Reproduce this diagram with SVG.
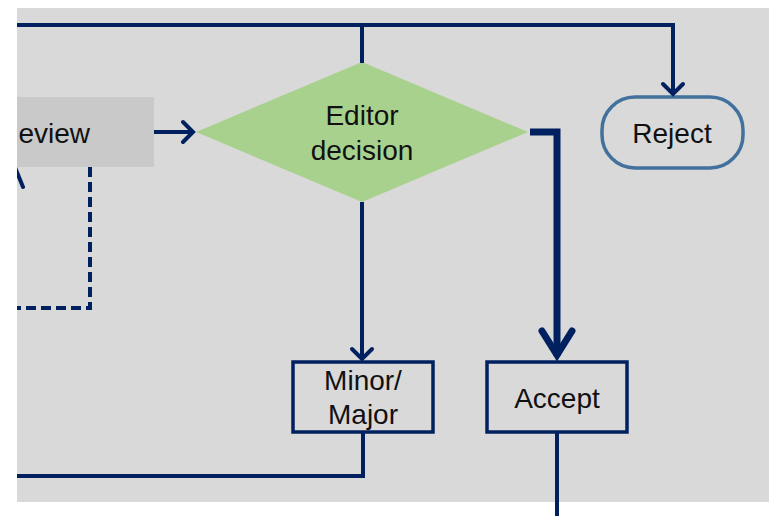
<svg xmlns="http://www.w3.org/2000/svg" width="769" height="516" viewBox="0 0 769 516">
  <style>
    .lbl { font-family: "Liberation Sans", Arial, sans-serif; font-size: 28px; fill: #111111; text-anchor: middle; }
    .ln { fill: none; stroke: #002060; stroke-width: 4; }
    .box { fill: #d9d9d9; stroke: #002060; stroke-width: 3.5; }
  </style>
  <defs>
    <marker id="arr" markerUnits="userSpaceOnUse" viewBox="-14 -14 28 28" markerWidth="28" markerHeight="28" refX="0" refY="0" orient="auto">
      <path d="M-10,-10 L0,0 L-10,10" fill="none" stroke="#002060" stroke-width="4" stroke-linecap="round" stroke-linejoin="miter"/>
    </marker>
    <marker id="arrBig" markerUnits="userSpaceOnUse" viewBox="-32 -22 44 44" markerWidth="44" markerHeight="44" refX="0" refY="0" orient="auto">
      <path d="M-25,-15 L-1,0 L-25,15" fill="none" stroke="#002060" stroke-width="7" stroke-linecap="round" stroke-linejoin="miter"/>
    </marker>
    <clipPath id="area"><rect x="17" y="8" width="752" height="508"/></clipPath>
  </defs>

  <rect x="0" y="0" width="769" height="516" fill="#ffffff"/>
  <rect x="17" y="8" width="752" height="494" fill="#d9d9d9"/>

  <g id="review">
    <rect x="17" y="97" width="137" height="70" fill="#c9c9c9"/>
    <text class="lbl" x="90" y="143" style="text-anchor:end">eview</text>
  </g>

  <g id="editor-decision">
    <polygon points="196,132 362,62 528,132 362,202" fill="#a9d18e"/>
    <text class="lbl" x="362" y="125">Editor</text>
    <text class="lbl" x="362" y="160">decision</text>
  </g>

  <g id="reject">
    <rect x="602" y="97" width="141" height="71" rx="33" ry="33" fill="#d9d9d9" stroke="#41719c" stroke-width="3.5"/>
    <text class="lbl" x="672" y="143">Reject</text>
  </g>

  <g id="minor-major">
    <rect class="box" x="293" y="362" width="140" height="70"/>
    <text class="lbl" x="363" y="390">Minor/</text>
    <text class="lbl" x="363" y="424">Major</text>
  </g>

  <g id="accept">
    <rect class="box" x="487" y="362" width="140" height="70"/>
    <text class="lbl" x="557" y="408">Accept</text>
  </g>

  <g id="connectors" clip-path="url(#area)">
    <!-- top bus from the left, branching to the decision and to Reject -->
    <polyline class="ln" points="17,25 673,25 673,94" marker-end="url(#arr)"/>
    <line class="ln" x1="362" y1="25" x2="362" y2="63"/>
    <!-- review to decision -->
    <line class="ln" x1="154" y1="132" x2="193" y2="132" marker-end="url(#arr)"/>
    <!-- dashed return from review -->
    <polyline class="ln" points="90,167 90,308 17,308" stroke-dasharray="10,5"/>
    <!-- stray incoming stroke at the left edge -->
    <line class="ln" x1="14" y1="165" x2="23" y2="187" stroke-linecap="round"/>
    <!-- decision to Minor/Major -->
    <line class="ln" x1="362" y1="202" x2="362" y2="359" marker-end="url(#arr)"/>
    <!-- Minor/Major back to the left -->
    <polyline class="ln" points="363,432 363,476 17,476"/>
    <!-- decision to Accept (heavy) -->
    <polyline points="530,132 557,132 557,356" fill="none" stroke="#002060" stroke-width="7" marker-end="url(#arrBig)"/>
    <!-- Accept onward -->
    <line class="ln" x1="557" y1="432" x2="557" y2="516"/>
  </g>
</svg>
